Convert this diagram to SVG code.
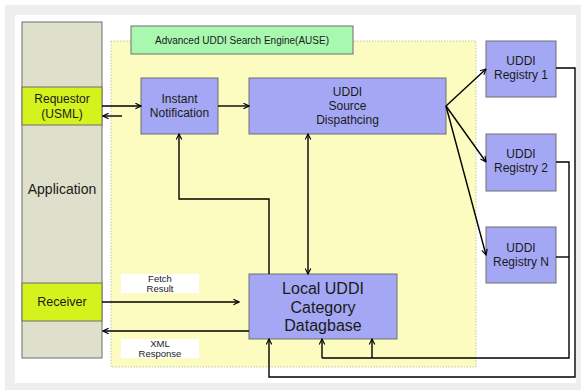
<svg xmlns="http://www.w3.org/2000/svg" width="581" height="390" viewBox="0 0 581 390">
  <style>
    text { font-family: "Liberation Sans", Arial, sans-serif; fill: #1a1a1a; text-anchor: middle; }
    .box { stroke: #6e6e6e; stroke-width: 1; }
    .blue { fill: #a4a8f4; }
    .lime { fill: #d4f21c; }
    .wire { fill: none; stroke: #000; stroke-width: 1.4; }
    .arr { marker-end: url(#head); }
  </style>
  <defs>
    <marker id="head" viewBox="0 0 10 10" refX="9" refY="5" markerWidth="7" markerHeight="7" markerUnits="userSpaceOnUse" orient="auto-start-reverse">
      <path d="M1,1 L9,5 L1,9" fill="none" stroke="#000" stroke-width="1.6"/>
    </marker>
  </defs>

  <!-- page frame -->
  <rect x="0" y="0" width="581" height="390" fill="#ffffff"/>
  <rect x="5" y="5" width="576" height="385" fill="#eeeeee"/>
  <rect x="15" y="15" width="561" height="368" fill="#ffffff"/>

  <!-- application column -->
  <g id="application">
    <rect class="box" x="22" y="22" width="80" height="336" fill="#dfe0cc"/>
    <text x="62" y="194" font-size="14">Application</text>
  </g>
  <g id="requestor">
    <rect class="box lime" x="22" y="87" width="80" height="38"/>
    <text x="62" y="103" font-size="12">Requestor</text>
    <text x="62" y="118" font-size="12">(USML)</text>
  </g>
  <g id="receiver">
    <rect class="box lime" x="22" y="283" width="80" height="38"/>
    <text x="62" y="306" font-size="12.5">Receiver</text>
  </g>

  <!-- search engine area -->
  <g id="ause">
    <rect x="111" y="41" width="365" height="326" fill="#fcfcc0" stroke="#b8b8a0" stroke-width="0.8" stroke-dasharray="1.5,1.5"/>
    <rect class="box" x="131" y="26" width="222" height="28" fill="#a8f8b0"/>
    <text x="242" y="44" font-size="10">Advanced UDDI Search Engine(AUSE)</text>
  </g>

  <g id="instant-notification">
    <rect class="box blue" x="141" y="78" width="77" height="56"/>
    <text x="179.5" y="103" font-size="12">Instant</text>
    <text x="179.5" y="117" font-size="12">Notification</text>
  </g>

  <g id="source-dispatching">
    <rect class="box blue" x="249" y="78" width="197" height="56"/>
    <text x="347.5" y="96" font-size="12">UDDI</text>
    <text x="347.5" y="110" font-size="12">Source</text>
    <text x="347.5" y="124" font-size="12">Dispathcing</text>
  </g>

  <g id="local-db">
    <rect class="box blue" x="249" y="274" width="148" height="65"/>
    <text x="323" y="294" font-size="16">Local UDDI</text>
    <text x="323" y="312.5" font-size="16">Category</text>
    <text x="323" y="331" font-size="16">Datagbase</text>
  </g>

  <g id="registry-1">
    <rect class="box blue" x="486" y="41" width="70" height="56"/>
    <text x="521" y="65" font-size="12">UDDI</text>
    <text x="521" y="79" font-size="12">Registry 1</text>
  </g>
  <g id="registry-2">
    <rect class="box blue" x="486" y="134" width="70" height="57"/>
    <text x="521" y="158" font-size="12">UDDI</text>
    <text x="521" y="172" font-size="12">Registry 2</text>
  </g>
  <g id="registry-n">
    <rect class="box blue" x="486" y="227" width="70" height="56"/>
    <text x="521" y="252" font-size="12">UDDI</text>
    <text x="521" y="266" font-size="12">Registry N</text>
  </g>

  <!-- connector labels -->
  <g id="label-fetch">
    <rect x="121" y="274" width="78" height="19" fill="#ffffff"/>
    <text x="160" y="281.5" font-size="9.5">Fetch</text>
    <text x="160" y="292" font-size="9.5">Result</text>
  </g>
  <g id="label-xml">
    <rect x="121" y="339" width="78" height="19" fill="#ffffff"/>
    <text x="160" y="346.5" font-size="9.5">XML</text>
    <text x="160" y="357" font-size="9.5">Response</text>
  </g>

  <!-- connectors -->
  <g id="connectors">
    <path class="wire arr" d="M102,106 H141"/>
    <path class="wire arr" d="M122,116 H103"/>
    <path class="wire arr" d="M218,106 H249"/>
    <path class="wire arr" d="M269,274 V199 H179 V134"/>
    <path class="wire arr" d="M308,134 V274" marker-start="url(#head)"/>
    <path class="wire arr" d="M446,106 L486,69"/>
    <path class="wire arr" d="M446,106 L486,162"/>
    <path class="wire arr" d="M446,106 L486,255"/>
    <path class="wire arr" d="M102,302 H239"/>
    <path class="wire arr" d="M249,331 H103"/>
    <!-- registry feedback into the local database -->
    <path class="wire arr" d="M556,68 H575 V377 H269 V339"/>
    <path class="wire" d="M556,162 H569 V358 H322"/>
    <path class="wire" d="M556,257 H569"/>
    <path class="wire arr" d="M322,358 V339"/>
    <path class="wire arr" d="M372,358 V339"/>
  </g>
</svg>
